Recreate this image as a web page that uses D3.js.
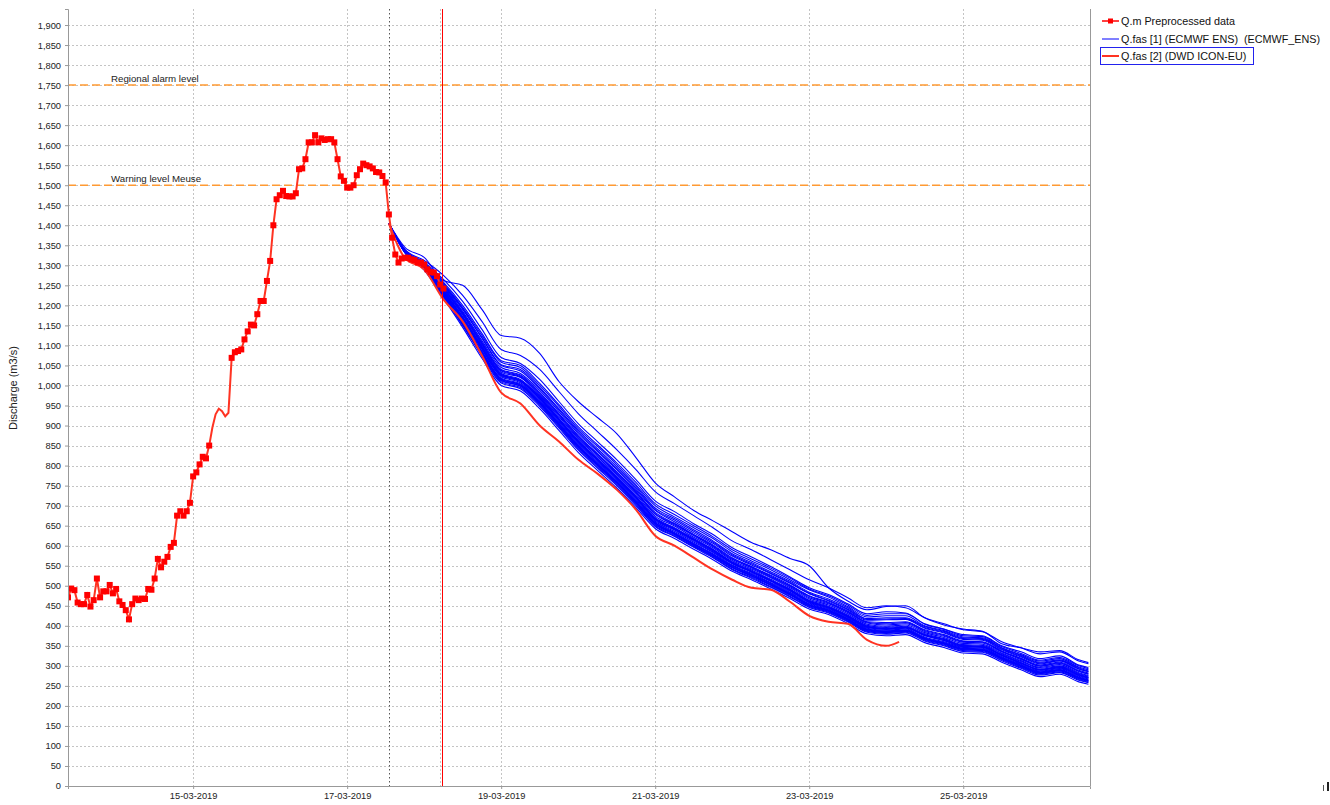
<!DOCTYPE html>
<html><head><meta charset="utf-8">
<script src="https://cdn.jsdelivr.net/npm/d3@7"></script>
<style>
body{margin:0;background:#fff;}
svg text{font-family:"Liberation Sans",Arial,sans-serif;}
</style>
</head><body>
<svg id="chart" width="1330" height="805"></svg>
<script>
// ---------- DATA ----------
// hours are counted from 17-03-2019 00:00
const obsHours = d3.range(-87, 31);
const obsValues = [471,493,489,458,454,454,477,448,464,518,471,486,486,502,481,492,461,452,439,416,
  454,468,464,468,467,492,490,518,567,546,560,572,597,607,675,686,675,686,707,773,
  783,803,822,818,850,
  895,928,942,936,923,932,
  1069,1083,1086,1090,1115,1135,1152,1150,1178,1211,1211,1261,1311,1400,1465,1475,1486,1473,1472,1472,
  1480,1540,1542,1565,1607,1607,1625,1607,1617,1613,1615,1615,1607,1565,1522,1511,1494,1494,1500,1525,
  1540,1554,1550,1547,1542,1533,1532,1523,1507,1427,1369,1327,1307,1317,1319,1319,1315,1313,1307,1307,
  1302,1290,1283,1282,1273,1252,1242];
const obsNoMarkerHours = [-42,-41,-40,-39,-38,-37];

const dwdHours = [13,18,24,30,36,42,48,54,60,66,72,78,84,90,96,102,108,114,120,126,132,138,144,150,156,162,168,172];
const dwdValues = [1405,1318,1290,1215,1160,1075,982,955,900,860,815,780,740,690,625,600,570,540,515,495,490,460,425,410,405,365,350,360];

const ensHours = [13,18,24,30,36,42,48,54,60,66,72,78,84,90,96,102,108,114,120,126,132,138,144,150,156,162,168,174,180,186,192,198,204,210,216,222,228,231];
const ens01 = [1405,1345,1320,1262,1250,1190,1125,1118,1080,1010,960,920,880,820,757,722,688,662,635,608,590,568,550,495,462,440,448,450,420,402,392,386,355,345,335,338,315,308];
const ens02 = [1405,1340,1312,1275,1225,1160,1090,1075,1040,985,930,885,840,790,735,705,675,645,612,590,565,540,515,495,470,445,450,445,420,405,390,385,360,345,330,335,312,305];
const ens03 = [1405,1338,1308,1265,1210,1140,1070,1055,1015,960,905,860,815,765,712,685,655,628,595,572,548,522,495,478,455,430,435,432,405,392,378,375,350,335,318,325,302,296];
const ens04 = [1405,1337,1305,1255,1195,1125,1058,1045,1000,948,892,848,802,752,700,672,645,618,585,562,540,515,490,472,448,422,425,425,400,388,372,370,345,328,312,318,297,290];
const ens05 = [1405,1336,1302,1248,1185,1112,1045,1030,988,935,880,835,790,740,688,660,632,606,574,552,530,506,480,462,440,414,415,416,394,382,366,364,340,322,305,312,292,285];
const ens06 = [1405,1335,1300,1242,1178,1104,1036,1022,978,926,870,826,780,732,678,652,625,598,566,545,522,498,470,455,433,407,402,405,386,374,359,357,335,316,299,306,286,279];
const ens07 = [1405,1335,1298,1238,1172,1098,1030,1015,972,918,863,818,773,724,670,645,618,591,560,539,516,492,464,449,427,401,396,399,380,368,353,351,330,311,294,300,281,274];
const ens08 = [1405,1334,1296,1234,1166,1092,1024,1010,966,912,857,812,767,718,664,639,612,585,555,534,511,487,459,444,422,396,391,394,375,363,348,346,325,306,289,295,276,269];
const ens09 = [1405,1334,1295,1230,1160,1086,1018,1004,960,906,851,806,761,712,658,633,606,580,550,529,506,482,455,440,418,392,387,390,370,358,344,342,321,302,285,291,272,265];
const ens10 = [1405,1333,1293,1226,1155,1080,1012,998,954,900,845,800,756,706,653,628,601,575,545,524,501,477,450,436,414,388,383,386,366,354,340,338,317,298,281,287,268,261];
const ens11 = [1405,1332,1290,1222,1150,1074,1006,992,948,894,839,794,750,700,648,623,596,570,540,519,496,472,446,432,410,384,379,382,362,350,336,334,313,294,277,283,264,258];
const ens12 = [1405,1331,1288,1218,1145,1068,1000,986,942,888,833,788,744,695,643,618,591,565,536,515,492,468,442,428,406,380,375,378,358,346,332,330,309,290,273,279,260,254];
const ens13 = [1405,1336,1303,1250,1190,1120,1052,1040,995,942,888,842,797,748,694,668,640,612,580,558,535,511,484,467,445,418,420,420,398,386,370,368,344,326,309,315,295,287];
const ens14 = [1405,1334,1297,1236,1168,1095,1027,1012,968,915,860,815,770,721,667,642,615,588,557,536,513,490,462,447,425,399,393,396,377,366,350,348,328,308,291,297,278,271];
const ens15 = [1405,1333,1294,1228,1158,1083,1015,1001,957,903,848,803,758,709,656,630,603,577,547,526,503,479,452,438,416,390,385,388,368,356,342,340,319,300,283,289,270,263];
const ens16 = [1405,1336,1301,1245,1182,1108,1040,1026,983,930,875,830,785,736,683,656,628,602,570,548,526,502,475,459,437,410,408,410,390,378,362,360,337,319,302,309,289,282];
const ens17 = [1405,1338,1306,1258,1200,1130,1062,1050,1005,952,897,852,807,758,705,678,650,622,590,567,544,519,492,475,452,426,430,430,404,391,375,373,348,331,314,321,300,293];
const ens18 = [1405,1332,1291,1224,1152,1077,1009,995,951,897,842,797,753,703,650,625,598,572,542,521,498,474,448,434,412,386,381,384,364,352,338,336,315,296,279,285,266,259];
const ens19 = [1405,1336,1299,1240,1176,1101,1033,1020,975,922,867,822,777,728,674,649,621,595,563,542,520,495,467,452,430,404,399,402,383,371,356,354,332,313,296,303,283,276];
const ens20 = [1405,1335,1297,1236,1170,1096,1028,1013,970,916,861,816,771,722,668,643,616,590,558,537,514,490,461,446,424,398,394,397,378,366,351,349,327,308,291,298,279,272];
const ens21 = [1405,1334,1296,1232,1164,1090,1022,1007,963,909,854,809,764,715,661,636,609,583,552,531,508,484,457,442,420,394,389,392,372,360,346,344,323,304,287,293,274,267];
const ens22 = [1405,1333,1294,1229,1159,1084,1016,1002,958,904,849,804,759,710,657,631,604,578,549,528,505,480,453,439,417,391,386,389,369,357,343,341,320,301,284,290,271,264];
const ens23 = [1405,1336,1301,1244,1180,1106,1038,1024,981,928,873,828,783,734,680,654,627,600,568,547,524,500,473,457,435,409,405,408,388,376,361,359,336,318,300,307,287,280];
const ens24 = [1405,1332,1292,1225,1156,1081,1013,999,955,901,846,801,757,707,654,628,600,574,546,525,502,478,451,437,415,389,384,387,367,355,341,339,318,299,282,288,269,262];
const ens25 = [1405,1337,1303,1252,1192,1118,1050,1036,992,939,884,838,793,744,690,664,636,609,577,555,532,508,481,464,442,416,417,418,396,384,368,366,342,324,307,313,293,286];
const ens26 = [1405,1334,1297,1235,1167,1093,1025,1011,967,914,859,814,769,720,666,641,614,587,556,535,512,488,460,445,423,397,392,395,376,364,349,347,326,307,290,296,277,270];
const ensembleMembers = [ens01,ens02,ens03,ens04,ens05,ens06,ens07,ens08,ens09,ens10,ens11,ens12,ens13,
  ens14,ens15,ens16,ens17,ens18,ens19,ens20,ens21,ens22,ens23,ens24,ens25,ens26];

const yTickValues = d3.range(0, 1901, 50);
const xTickLabels = ["15-03-2019","17-03-2019","19-03-2019","21-03-2019","23-03-2019","25-03-2019"];
const thresholdValues = [1750, 1500];
const thresholdLabels = ["Regional alarm level", "Warning level Meuse"];
const legendLabels = ["Q.m Preprocessed data", "Q.fas [1] (ECMWF ENS)  (ECMWF_ENS)", "Q.fas [2] (DWD ICON-EU)"];
const forecastStartHour = 13;   // black dotted marker
const t0GridHour = 29;          // grey dotted marker
const nowHour = 29.6;           // red vertical line

// ---------- SCALES ----------
const base = Date.UTC(2019, 2, 17);
const hr = h => new Date(base + h * 3600e3);
const parseTick = s => { const [d, m, yy] = s.split("-").map(Number); return new Date(Date.UTC(yy, m - 1, d)); };

const L = 68, R = 1090, T = 9, B = 786;
const x = d3.scaleUtc().domain([hr(-87), hr(231.5)]).range([L, R]);
const y = d3.scaleLinear().domain([0, 1940]).range([B, T]);

const svg = d3.select("#chart");
const fontSm = "9.3px";

// grid
const grid = svg.append("g");
grid.selectAll("line.h").data(yTickValues).join("line")
  .attr("x1", L).attr("x2", R).attr("y1", d => Math.round(y(d)) + 0.5).attr("y2", d => Math.round(y(d)) + 0.5)
  .attr("stroke", "#c4c4c4").attr("stroke-dasharray", "2,2").attr("stroke-width", 1);
grid.selectAll("line.v").data(xTickLabels).join("line")
  .attr("x1", d => Math.round(x(parseTick(d))) + 0.5).attr("x2", d => Math.round(x(parseTick(d))) + 0.5)
  .attr("y1", T).attr("y2", B)
  .attr("stroke", "#c4c4c4").attr("stroke-dasharray", "2,2").attr("stroke-width", 1);
grid.append("line")
  .attr("x1", Math.round(x(hr(t0GridHour))) + 0.5).attr("x2", Math.round(x(hr(t0GridHour))) + 0.5)
  .attr("y1", T).attr("y2", B).attr("stroke", "#c4c4c4").attr("stroke-dasharray", "2,2");
grid.append("line")
  .attr("x1", Math.round(x(hr(forecastStartHour))) + 0.5).attr("x2", Math.round(x(hr(forecastStartHour))) + 0.5)
  .attr("y1", T).attr("y2", B).attr("stroke", "#555").attr("stroke-dasharray", "1.5,2.5");

// thresholds
thresholdValues.forEach((v, i) => {
  svg.append("line").attr("x1", L).attr("x2", R).attr("y1", y(v)).attr("y2", y(v))
    .attr("stroke", "#ff9a33").attr("stroke-width", 1.5).attr("stroke-dasharray", "8,4");
  svg.append("text").attr("x", 111).attr("y", y(v) - 3).attr("font-size", "9.7px").attr("fill", "#222")
    .text(thresholdLabels[i]);
});

// ensemble
svg.append("clipPath").attr("id", "clipP").append("rect")
  .attr("x", L).attr("y", T).attr("width", R - L).attr("height", B - T);
const plot = svg.append("g").attr("clip-path", "url(#clipP)");
const ensLine = d3.line().x((d, i) => x(hr(ensHours[i]))).y(d => y(d)).curve(d3.curveMonotoneX);
plot.selectAll("path.ens").data(ensembleMembers).join("path")
  .attr("d", ensLine).attr("fill", "none").attr("stroke", "#0000ff").attr("stroke-width", 1.1);

// DWD
const dwdLine = d3.line().x((d, i) => x(hr(dwdHours[i]))).y(d => y(d)).curve(d3.curveMonotoneX);
plot.append("path").datum(dwdValues).attr("d", dwdLine).attr("fill", "none")
  .attr("stroke", "#ff3322").attr("stroke-width", 2);

// observed
const obsLine = d3.line().x((d, i) => x(hr(obsHours[i]))).y(d => y(d));
plot.append("path").datum(obsValues).attr("d", obsLine).attr("fill", "none")
  .attr("stroke", "#ff3322").attr("stroke-width", 2);
const obsPts = obsHours.map((h, i) => ({h, v: obsValues[i]})).filter(p => !obsNoMarkerHours.includes(p.h));
plot.selectAll("rect.obs").data(obsPts).join("rect")
  .attr("x", d => x(hr(d.h)) - 3).attr("y", d => y(d.v) - 3).attr("width", 6).attr("height", 6)
  .attr("fill", "#ff0000");

// now line
svg.append("line").attr("x1", Math.round(x(hr(nowHour))) + 0.5).attr("x2", Math.round(x(hr(nowHour))) + 0.5)
  .attr("y1", T).attr("y2", B).attr("stroke", "#ff0000").attr("stroke-width", 1);

// axes
const yAxis = svg.append("g").attr("transform", `translate(${L},0)`)
  .call(d3.axisLeft(y).tickValues(yTickValues).tickFormat(d3.format(",")).tickSize(3).tickPadding(4));
const xAxis = svg.append("g").attr("transform", `translate(0,${B})`)
  .call(d3.axisBottom(x).tickValues(xTickLabels.map(parseTick)).tickFormat((d, i) => xTickLabels[i]).tickSize(3).tickPadding(3));
[yAxis, xAxis].forEach(a => {
  a.select(".domain").attr("stroke", "#999");
  a.selectAll(".tick line").attr("stroke", "#999");
  a.selectAll("text").attr("font-size", fontSm).attr("fill", "#222").attr("font-family", "Liberation Sans, Arial, sans-serif");
});
svg.append("line").attr("x1", R + 0.5).attr("x2", R + 0.5).attr("y1", T).attr("y2", B).attr("stroke", "#999");

// y label
svg.append("text").attr("transform", "translate(17,388) rotate(-90)").attr("text-anchor", "middle")
  .attr("font-size", "11px").attr("fill", "#222").text("Discharge (m3/s)");

// legend
const lg = svg.append("g");
const ly = [21, 39, 56];
lg.append("line").attr("x1", 1102).attr("x2", 1119).attr("y1", ly[0]).attr("y2", ly[0]).attr("stroke", "#ff0000").attr("stroke-width", 1.5);
lg.append("rect").attr("x", 1108).attr("y", ly[0] - 2.5).attr("width", 5).attr("height", 5).attr("fill", "#ff0000");
lg.append("line").attr("x1", 1102).attr("x2", 1119).attr("y1", ly[1]).attr("y2", ly[1]).attr("stroke", "#0000ff").attr("stroke-width", 1);
lg.append("line").attr("x1", 1102).attr("x2", 1119).attr("y1", ly[2]).attr("y2", ly[2]).attr("stroke", "#ff3322").attr("stroke-width", 2);
lg.append("rect").attr("x", 1100.5).attr("y", 47.5).attr("width", 153).attr("height", 17)
  .attr("fill", "none").attr("stroke", "#2222ee").attr("stroke-width", 1);
legendLabels.forEach((t, i) => {
  lg.append("text").attr("x", 1121).attr("y", ly[i] + 4).attr("font-size", "10.8px").attr("fill", "#111")
    .style("white-space", "pre").text(t);
});

// small artefact at bottom right
svg.append("rect").attr("x", 1323).attr("y", 785).attr("width", 1).attr("height", 6).attr("fill", "#555");
svg.append("rect").attr("x", 1327).attr("y", 782).attr("width", 2).attr("height", 9).attr("fill", "#222");
</script>
</body></html>
